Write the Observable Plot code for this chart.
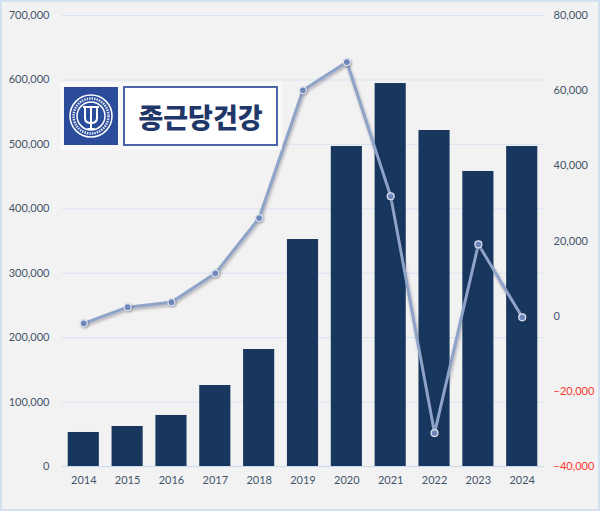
<!DOCTYPE html>
<html>
<head>
<meta charset="utf-8">
<script src="https://cdn.jsdelivr.net/npm/d3@7"></script>
<script src="https://cdn.jsdelivr.net/npm/@observablehq/plot@0.6"></script>
<style>
  html, body { margin: 0; padding: 0; background: #f2f2f2; }
  #wrap { position: relative; width: 600px; height: 511px; background: #f2f2f2; overflow: hidden; }
  #frame { position: absolute; left: 0; top: 0; width: 600px; height: 511px; box-sizing: border-box; border: 2px solid #d3e0ef; pointer-events: none; }
  #chart svg { display: block; }
  g[aria-label="line"] path { filter: drop-shadow(1px 2px 1.5px rgba(40,40,60,0.35)); }
  g[aria-label="dot"] circle { filter: drop-shadow(1px 1px 1px rgba(40,40,60,0.35)); }
  #logo { position: absolute; left: 60px; top: 82px; width: 222px; height: 68px; background: rgba(255,255,255,0.55); }
  #emblem { position: absolute; left: 64px; top: 87px; width: 54px; height: 58px; background: #2b4c9b; }
  #namebox { position: absolute; left: 123px; top: 86px; width: 155px; height: 60px; box-sizing: border-box; background: #ffffff; border: 2px solid #4a64a6; display: flex; align-items: center; justify-content: center; }
  #namebox span { font-family: "Noto Sans CJK KR", sans-serif; font-weight: 900; font-size: 27px; color: #1f3869; letter-spacing: 0px; }
</style>
</head>
<body>
<div id="wrap">
  <div id="chart"></div>
  <div id="logo"></div>
  <div id="emblem">
    <svg width="54" height="58" viewBox="0 0 54 58">
      <circle cx="27" cy="29" r="21" fill="none" stroke="#ffffff" stroke-width="1.5"/>
      <circle cx="27" cy="29" r="17.5" fill="none" stroke="#dfe6f5" stroke-width="2.5" stroke-dasharray="1.5 1"/>
      <circle cx="27" cy="29" r="14" fill="none" stroke="#ffffff" stroke-width="1.5"/>
      <path d="M19 20 H35 M21 20 V31 Q21 36 27 36 Q33 36 33 31 V20 M27 20 V42 M23.5 42 H30.5" fill="none" stroke="#ffffff" stroke-width="2"/>
    </svg>
  </div>
  <div id="namebox"><span>종근당건강</span></div>
  <div id="frame"></div>
</div>
<script>
const years = ["2014", "2015", "2016", "2017", "2018", "2019", "2020", "2021", "2022", "2023", "2024"];
const revenue = [52800, 62100, 79200, 125700, 181600, 352300, 496700, 594400, 521500, 457900, 496700];
const profit = [-1900, 2400, 3700, 11400, 26100, 60100, 67600, 31900, -31100, 19100, -300];
const leftTicks = [0, 100000, 200000, 300000, 400000, 500000, 600000, 700000];
const rightTicks = [-40000, -20000, 0, 20000, 40000, 60000, 80000];

const leftMax = 700000, rightMin = -40000, rightMax = 80000;
const toLeft = v => (v - rightMin) / (rightMax - rightMin) * leftMax;

const table = years.map((year, i) => ({year, revenue: revenue[i], profit: profit[i]}));
const fmt = d3.format(",");

const chart = Plot.plot({
  width: 600,
  height: 511,
  marginTop: 15,
  marginBottom: 45,
  marginLeft: 62,
  marginRight: 56,
  style: {background: "transparent", fontFamily: "Lato, 'Open Sans', sans-serif", fontSize: "11px", color: "#44546a"},
  x: {type: "band", domain: years, padding: 0.29, range: [55, 550], round: false, label: null},
  y: {domain: [0, leftMax], label: null},
  marks: [
    Plot.gridY(leftTicks, {stroke: "#d8e3f1", strokeOpacity: 1}),
    Plot.ruleY([0], {stroke: "#c9d8ec"}),
    Plot.barY(table, {x: "year", y: "revenue", fill: "#17375e"}),
    Plot.line(table, {x: "year", y: d => toLeft(d.profit), stroke: "#8ea3c9", strokeWidth: 3}),
    Plot.dot(table, {x: "year", y: d => toLeft(d.profit), r: 3.5, fill: "#6f88b9", stroke: "#dfe6f2", strokeWidth: 1.2}),
    Plot.axisY({ticks: leftTicks, tickSize: 0, tickPadding: 13, tickFormat: fmt, fill: "#44546a"}),
    Plot.axisX({tickSize: 0, tickPadding: 10, fill: "#44546a"}),
    Plot.text(rightTicks, {y: d => toLeft(d), text: d => fmt(d), frameAnchor: "right", textAnchor: "start", dx: 9,
      fill: d => d < 0 ? "#ff3b30" : "#44546a"})
  ]
});
document.getElementById("chart").appendChild(chart);
</script>
</body>
</html>
